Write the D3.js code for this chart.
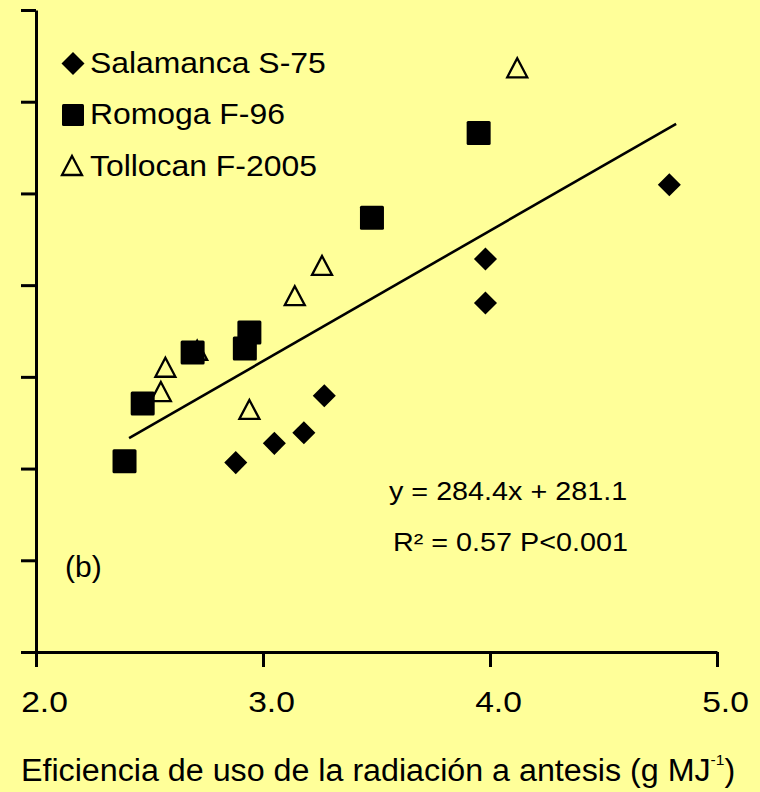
<!DOCTYPE html>
<html>
<head>
<meta charset="utf-8">
<script src="https://cdn.jsdelivr.net/npm/d3@7"></script>
<style>
  html, body { margin: 0; padding: 0; background: #FFFF99; }
  svg { display: block; }
  text { font-family: "Liberation Sans", Arial, Helvetica, sans-serif; fill: #000; }
</style>
</head>
<body>
<div id="chart"></div>
<script>
// Radiation use efficiency at anthesis (x) for three cultivars
const salamancaX = [2.88, 3.05, 3.18, 3.27, 3.98, 3.98, 4.79];
const salamancaY = [913, 955, 978, 1059, 1357, 1261, 1519];

const romogaX = [2.39, 2.47, 2.69, 2.92, 2.94, 3.48, 3.95];
const romogaY = [916, 1042, 1153, 1162, 1197, 1447, 1632];

const tollocanX = [2.55, 2.57, 2.71, 2.94, 3.14, 3.26, 4.12];
const tollocanY = [1068, 1121, 1158, 1029, 1277, 1343, 1774];

const seriesNames = ["Salamanca S-75", "Romoga F-96", "Tollocan F-2005"];

const xTicks = [2, 3, 4, 5];
const yTicks = [500, 700, 900, 1100, 1300, 1500, 1700, 1900];

// Linear fit across all cultivars and the x span it is drawn over
const slope = 284.4;
const intercept = 281.1;
const fitRange = [2.41, 4.82];
const fitLabel = "y = 284.4x + 281.1";
const statsLabel = "R\u00B2 = 0.57 P<0.001";
const panelLabel = "(b)";
const xTitle = "Eficiencia de uso de la radiaci\u00F3n a antesis (g MJ";
const xTitleSup = "-1";

const W = 760, H = 792;

const svg = d3.select("#chart").append("svg")
  .attr("width", W).attr("height", H);

svg.append("rect").attr("width", W).attr("height", H).attr("fill", "#FFFF99");

const x = d3.scaleLinear().domain([2, 5]).range([36, 717]);
const y = d3.scaleLinear().domain([500, 1900]).range([652, 10]);

// Axes
const gx = svg.append("g").attr("transform", "translate(0,652)")
  .call(d3.axisBottom(x).tickValues(xTicks).tickSize(15).tickSizeOuter(0)
    .tickFormat(d3.format(".1f")));
const gy = svg.append("g").attr("transform", "translate(36,0)")
  .call(d3.axisLeft(y).tickValues(yTicks).tickSize(15).tickSizeOuter(0)
    .tickFormat(""));

[gx, gy].forEach(g => {
  g.select(".domain").attr("stroke", "#000").attr("stroke-width", 3);
  g.selectAll(".tick line").attr("stroke", "#000").attr("stroke-width", 3);
});
gx.selectAll(".tick text")
  .attr("y", null).attr("dy", null)
  .attr("transform", "translate(8,60) scale(1.12,1)")
  .attr("font-size", 30)
  .attr("font-family", "Liberation Sans, Arial, sans-serif")
  .attr("fill", "#000");

// Regression line
svg.append("path")
  .datum(fitRange)
  .attr("d", d3.line().x(d => x(d)).y(d => y(slope * d + intercept)))
  .attr("stroke", "#000").attr("stroke-width", 2.6).attr("fill", "none");

// Marker shapes
const diamondPath = d3.symbol(d3.symbolSquare, 16.3 * 16.3)();
const trianglePath = "M0,-9.5L10,9.5L-10,9.5Z";

function drawDiamond(g, cx, cy) {
  g.append("path").attr("d", diamondPath)
    .attr("transform", `translate(${cx},${cy}) rotate(45)`)
    .attr("fill", "#000");
}
function drawSquare(g, cx, cy, s) {
  g.append("rect")
    .attr("x", cx - s / 2).attr("y", cy - s / 2)
    .attr("width", s).attr("height", s).attr("rx", 1.5)
    .attr("fill", "#000");
}
function drawTriangle(g, cx, cy) {
  g.append("path").attr("d", trianglePath)
    .attr("transform", `translate(${cx},${cy})`)
    .attr("fill", "none").attr("stroke", "#000").attr("stroke-width", 2.3);
}

const marks = svg.append("g");
tollocanX.forEach((v, i) => drawTriangle(marks, x(v), y(tollocanY[i])));
romogaX.forEach((v, i) => drawSquare(marks, x(v), y(romogaY[i]), 24));
salamancaX.forEach((v, i) => drawDiamond(marks, x(v), y(salamancaY[i])));

// Text helper with horizontal scaling
function label(str, px, py, size, sx) {
  return svg.append("text")
    .attr("transform", `translate(${px},${py}) scale(${sx},1)`)
    .attr("font-size", size)
    .text(str);
}

// Legend
const legend = svg.append("g");
drawDiamond(legend, 73, 63.5);
drawSquare(legend, 73, 115, 22);
drawTriangle(legend, 72, 165.5);
label(seriesNames[0], 90, 72.7, 29, 1.1);
label(seriesNames[1], 90, 124, 29, 1.1);
label(seriesNames[2], 90, 175.7, 29, 1.1);

// Fit annotation and panel tag
label(fitLabel, 389, 499.5, 25, 1.15);
label(statsLabel, 393, 551, 25, 1.15);
label(panelLabel, 65, 577, 30, 1.0);

// X axis title with superscript unit
const t = label(xTitle, 21, 781, 31, 1.04);
t.append("tspan").attr("font-size", 15).attr("dy", -16).text(xTitleSup);
t.append("tspan").attr("dy", 16).text(")");
</script>
</body>
</html>
